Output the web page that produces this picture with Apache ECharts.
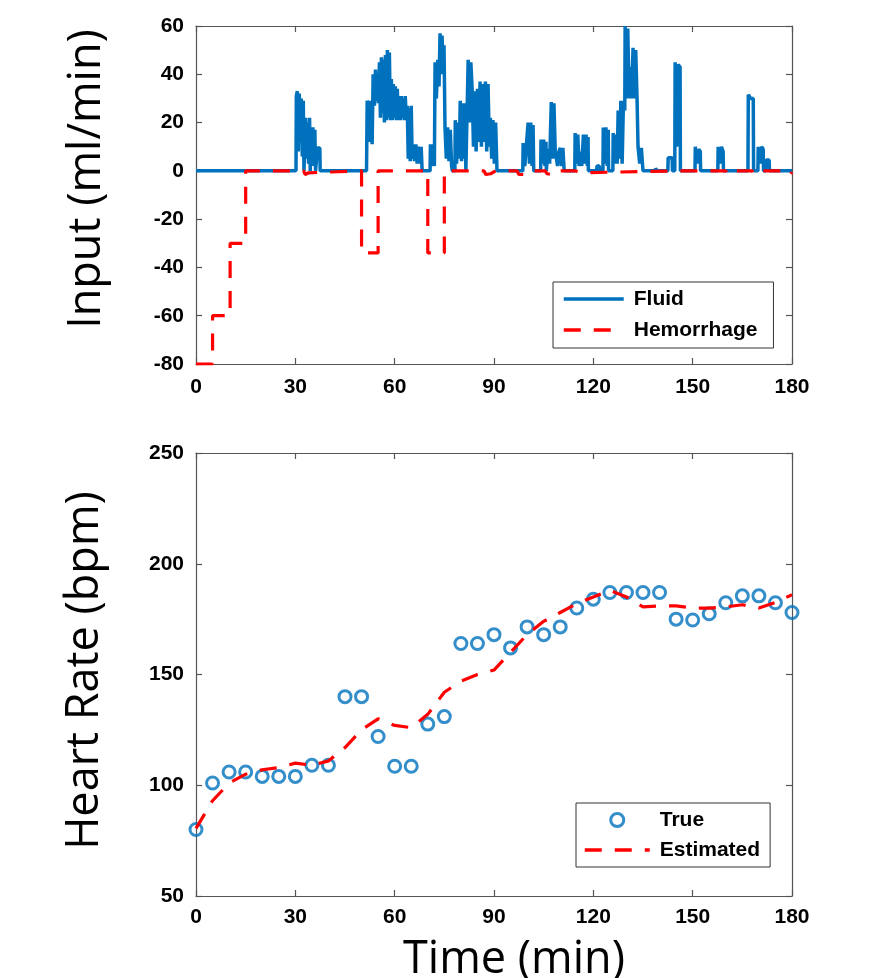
<!DOCTYPE html>
<html><head><meta charset="utf-8">
<script src="https://cdn.jsdelivr.net/npm/echarts@6/dist/echarts.min.js"></script>
<style>html,body{margin:0;padding:0;background:#fff}#c{width:871px;height:978px}</style>
</head><body><div id="c"></div>
<script>
const timeTicks = [0, 30, 60, 90, 120, 150, 180];
const inputTicks = [-80, -60, -40, -20, 0, 20, 40, 60];
const hrTicks = [50, 100, 150, 200, 250];

// [time (min), fluid rate (ml/min)]
const fluid = [[0,0],[30.2,0],[30.3,31],[30.6,33],[30.9,8],[31.2,32],[31.5,12],[31.8,30],[32.1,6],[32.4,29],[32.6,0],[33.0,0],[33.1,22],[33.4,5],[33.7,20],[34.0,3],[34.3,22],[34.5,0],[34.7,18],[35.0,4],[35.3,18],[35.6,2],[35.9,17],[36.1,0],[36.6,0],[36.7,9.5],[37.4,9.5],[37.5,0],
[51.5,0],[51.7,29],[52.2,27],[52.5,12],[52.8,29],[53.2,11],[53.5,40],[53.9,27],[54.2,42],[54.5,29],[54.8,39],[55.1,28],[55.4,45],[55.7,22],[56.0,47],[56.3,24],[56.6,46],[56.9,20],[57.2,48],[57.5,21],[57.8,50],[58.1,22],[58.4,49],[58.7,21],[59.0,38],[59.3,21],[59.6,36],[59.9,22],[60.2,35],[60.5,21],[60.8,34],[61.1,21],[61.4,31],[61.7,21],[62.0,31],[62.3,22],[62.6,30],[62.9,21],[63.2,31],[63.5,22],[63.8,27],[64.1,5],[64.4,26],[64.7,4],[65.0,27],[65.3,5],[65.6,11],[66.0,4],[66.4,11],[66.8,3],[67.2,10],[67.6,3],[68.0,10],[68.3,0],[70.7,0],[70.8,11],[71.2,2],[71.6,11],[72.0,2],[72.2,45],[72.6,30],[73.0,46],[73.4,35],[73.7,57],[74.0,40],[74.3,56],[74.6,45],[74.9,52],[75.2,18],[75.6,5],[76.0,18],[76.4,4],[76.8,17],[77.2,2],[77.4,0],[78.2,0],[78.3,21],[78.7,3],[79.1,20],[79.5,5],[79.8,29],[80.2,4],[80.6,28],[81.0,5],[81.3,28],[81.5,0],[82.1,0],[82.2,46],[82.6,20],[83.0,45],[83.4,34],[83.8,10],[84.2,33],[84.6,8],[85.0,34],[85.4,12],[85.8,37],[86.2,10],[86.6,36],[87.0,12],[87.4,37],[87.8,8],[88.2,36],[88.6,10],[88.9,22],[89.3,5],[89.7,21],[90.1,3],[90.5,20],[90.9,0],
[98.7,0],[98.8,11.5],[99.3,2],[99.8,11],[100.3,20],[100.7,3],[101.1,20],[101.5,2],[101.8,19],[102.0,0],[104.1,0],[104.2,13],[104.6,3],[105.0,13],[105.4,2],[105.7,12],[105.8,0],[106.2,0],[106.3,9],[106.8,3],[107.3,28.5],[107.7,5],[108.1,28],[108.5,8],[108.8,8],[109.2,2],[109.6,8],[110.0,9.5],[110.4,2],[110.8,9.5],[111.2,0],[114.4,0],[114.5,15.7],[114.9,3],[115.3,15],[115.7,2],[116.0,8],[116.5,2],[117.0,15],[117.4,3],[117.8,15],[118.2,2],[118.4,14],[118.5,0],
[121.0,0],[121.1,2],[121.8,2],[121.9,0],[122.9,0],[123.0,18],[123.4,3],[123.8,18],[124.2,2],[124.5,17],[124.6,0],[125.9,0],[126.0,15.7],[126.4,3],[126.8,15],[127.2,3],[127.5,25],[128.0,5],[128.3,29],[128.7,3],[129.1,29],[129.5,25],[129.6,60],[130.0,30],[130.4,59],[130.8,30],[131.1,43],[131.5,30],[132.0,51],[132.4,30],[132.8,50],[133.2,30],[133.5,10],[134.0,3],[134.5,9.5],[135.0,0],[138.7,0],[138.8,1],[139.2,1],[139.3,0],[142.5,0],[142.6,5.4],[143.8,5.4],[143.9,0],[144.6,0],[144.7,45],[145.2,10],[145.6,44],[146.2,43],[146.3,0],[150.7,0],[150.8,10],[151.3,3],[151.8,9],[152.3,8],[152.4,0],[157.6,0],[157.7,10],[158.2,3],[158.7,10],[159.2,8],[159.3,0],[166.7,0],[166.8,31.5],[167.5,30],[168.3,30],[168.4,0],[169.7,0],[169.8,10],[170.3,3],[170.8,10],[171.3,9],[171.4,0],[172.1,0],[172.2,4.5],[173.1,4.5],[173.2,0],[180,0]];

// [time (min), hemorrhage rate (ml/min)]
const hemorrhage = [[0,-80],[5,-80],[5,-60],[10.3,-60],[10.3,-30],[15,-30],[15,0],[32.5,0],[33,-1.5],[34,-0.8],[34.6,0],[50,0],[50,-34],[55,-34],[55,0],[70,0],[70,-34],[75,-34],[75,0],[87,0],[87.5,-1.5],[89,-1.2],[90.5,0],[97,0],[97.5,-1.5],[99,-1.5],[100,0],[105.5,0],[106,-1.2],[108.5,-1.8],[109.5,0],[114.5,0],[116.5,-0.8],[117,0],[145,0],[145.5,-0.6],[146,0],[160,0],[160.3,-1.5],[161.5,-0.5],[163,0],[168,0],[168.5,-1.5],[170,-1.2],[171,0],[178,0],[178.5,-1.5],[179.5,-1.5],[180,-0.5]];

const hrTime = [0,5,10,15,20,25,30,35,40,45,50,55,60,65,70,75,80,85,90,95,100,105,110,115,120,125,130,135,140,145,150,155,160,165,170,175,180];
const hrTrue = [80,101,106,106,104,104,104,109,109,140,140,122,108.6,108.6,127.6,131,164,164,168,162,171.5,168,171.5,180,184,187,187,187,187,175,174.6,177.4,182.4,185.5,185.5,182.4,178];
const hrEstimated = [80.5,93,101,105,107,108,110,109,111,117,125,130,127,126,132,142,147,150,152,160,168,174,178,182,185,188,185,180.5,181,181,180,180,180.5,181.5,180,182.5,186];

const chart = echarts.init(document.getElementById('c'), null, {renderer: 'canvas'});
const tickFont = {fontFamily: 'Liberation Sans, Arial, sans-serif', fontWeight: 'bold', fontSize: 21, color: '#000'};
const axColor = '#555';
const titleFont = {fontFamily: 'Open Sans, Lato, sans-serif', fontSize: 45, color: '#000'};
const dash = [17, 13];

function xAx(grid, pos, showLabel, margin, name) {
  return {
    type: 'value', gridIndex: grid, position: pos,
    min: timeTicks[0], max: timeTicks[timeTicks.length - 1], interval: timeTicks[1] - timeTicks[0],
    axisLine: {show: true, onZero: false, lineStyle: {color: axColor, width: 1.2}},
    axisTick: {show: true, inside: true, length: 6, lineStyle: {color: axColor, width: 1.2}},
    axisLabel: Object.assign({show: showLabel, margin: margin || 10}, tickFont),
    splitLine: {show: false},
    name: name || '', nameLocation: 'middle', nameGap: 42,
    nameTextStyle: Object.assign({padding: [0, 0, 0, 40]}, titleFont)
  };
}
function yAx(grid, pos, ticks, showLabel, name, gap, shift) {
  return {
    type: 'value', gridIndex: grid, position: pos,
    min: ticks[0], max: ticks[ticks.length - 1], interval: ticks[1] - ticks[0],
    axisLine: {show: true, onZero: false, lineStyle: {color: axColor, width: 1.2}},
    axisTick: {show: true, inside: true, length: 6, lineStyle: {color: axColor, width: 1.2}},
    axisLabel: Object.assign({show: showLabel, margin: 12}, tickFont),
    splitLine: {show: false},
    name: name || '', nameLocation: 'middle', nameGap: gap || 80, nameRotate: 90,
    nameTextStyle: Object.assign({padding: [0, 0, 0, shift || 0]}, titleFont)
  };
}

const legendText = {fontFamily: 'Liberation Sans, Arial, sans-serif', fontWeight: 'bold', fontSize: 21, color: '#000', lineHeight: 22, padding: [0, 0, 0, 5]};
const hideSymbol = {color: 'rgba(0,0,0,0)', borderColor: 'rgba(0,0,0,0)', borderWidth: 0, opacity: 0};

chart.setOption({
  animation: false,
  backgroundColor: '#fff',
  grid: [
    {left: 196, right: 79, top: 26, height: 338, outerBoundsMode: 'none', containLabel: false},
    {left: 196, right: 79, top: 453, height: 443, outerBoundsMode: 'none', containLabel: false}
  ],
  xAxis: [
    xAx(0, 'bottom', true, 13), xAx(0, 'top', false),
    xAx(1, 'bottom', true, 11, 'Time (min)'), xAx(1, 'top', false)
  ],
  yAxis: [
    yAx(0, 'left', inputTicks, true, 'Input (ml/min)', 86, 32), yAx(0, 'right', inputTicks, false),
    yAx(1, 'left', hrTicks, true, 'Heart Rate (bpm)', 88, 8), yAx(1, 'right', hrTicks, false)
  ],
  legend: [
    {
      data: [{name: 'Fluid', itemStyle: hideSymbol}, {name: 'Hemorrhage', itemStyle: hideSymbol}],
      orient: 'vertical', left: 553, top: 282,
      itemWidth: 60, itemHeight: 14, itemGap: 9, padding: [6, 16, 7, 9],
      borderColor: '#333', borderWidth: 1, backgroundColor: '#fff',
      textStyle: legendText,
      lineStyle: {width: 3.5}
    },
    {
      data: [{name: 'True'}, {name: 'Estimated', itemStyle: hideSymbol}],
      orient: 'vertical', left: 576, top: 803,
      itemWidth: 65, itemHeight: 13, itemGap: 8, padding: [6, 10, 6, 7],
      borderColor: '#333', borderWidth: 1, backgroundColor: '#fff',
      textStyle: legendText,
      lineStyle: {width: 3.5}, itemStyle: {borderWidth: 3}
    }
  ],
  series: [
    {
      name: 'Fluid', type: 'line', xAxisIndex: 0, yAxisIndex: 0, data: fluid,
      symbol: 'none', showSymbol: false, z: 2,
      lineStyle: {color: '#0072BD', width: 3.5}, itemStyle: {color: '#0072BD'}
    },
    {
      name: 'Hemorrhage', type: 'line', xAxisIndex: 0, yAxisIndex: 0, data: hemorrhage,
      symbol: 'none', showSymbol: false, z: 3,
      lineStyle: {color: '#FF0000', width: 3.2, type: dash}, itemStyle: {color: '#FF0000'}
    },
    {
      name: 'True', type: 'scatter', xAxisIndex: 2, yAxisIndex: 2,
      data: hrTime.map((t, i) => [t, hrTrue[i]]),
      symbol: 'circle', symbolSize: 12, z: 2,
      itemStyle: {color: 'rgba(255,255,255,0)', borderColor: '#0072BD', borderWidth: 3}
    },
    {
      name: 'Estimated', type: 'line', xAxisIndex: 2, yAxisIndex: 2,
      data: hrTime.map((t, i) => [t, hrEstimated[i]]),
      symbol: 'none', showSymbol: false, z: 3,
      lineStyle: {color: '#FF0000', width: 3.2, type: dash}, itemStyle: {color: '#FF0000'}
    }
  ]
});
</script></body></html>
